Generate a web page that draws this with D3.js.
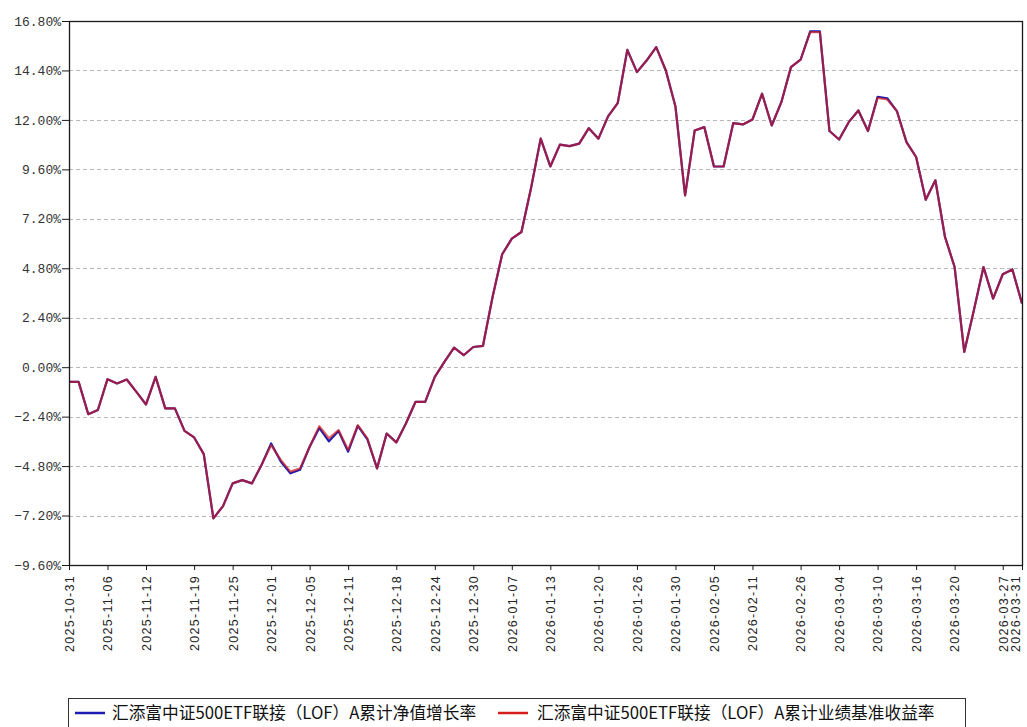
<!DOCTYPE html>
<html><head><meta charset="utf-8">
<script src="https://cdn.jsdelivr.net/npm/d3@7"></script>
<style>body{margin:0;background:#fff}svg{display:block}</style>
</head><body><svg id="c" width="1027" height="727"></svg>
<script>
const dates=["2025-10-31",
"2025-11-03","2025-11-04","2025-11-05","2025-11-06","2025-11-07","2025-11-10","2025-11-11","2025-11-12","2025-11-13","2025-11-14","2025-11-17","2025-11-18","2025-11-19","2025-11-20","2025-11-21","2025-11-24","2025-11-25","2025-11-26","2025-11-27","2025-11-28",
"2025-12-01","2025-12-02","2025-12-03","2025-12-04","2025-12-05","2025-12-08","2025-12-09","2025-12-10","2025-12-11","2025-12-12","2025-12-15","2025-12-16","2025-12-17","2025-12-18","2025-12-19","2025-12-22","2025-12-23","2025-12-24","2025-12-25","2025-12-26","2025-12-29","2025-12-30","2025-12-31",
"2026-01-05","2026-01-06","2026-01-07","2026-01-08","2026-01-09","2026-01-12","2026-01-13","2026-01-14","2026-01-15","2026-01-16","2026-01-19","2026-01-20","2026-01-21","2026-01-22","2026-01-23","2026-01-26","2026-01-27","2026-01-28","2026-01-29","2026-01-30",
"2026-02-02","2026-02-03","2026-02-04","2026-02-05","2026-02-06","2026-02-09","2026-02-10","2026-02-11","2026-02-12","2026-02-13","2026-02-24","2026-02-25","2026-02-26","2026-02-27",
"2026-03-02","2026-03-03","2026-03-04","2026-03-05","2026-03-06","2026-03-09","2026-03-10","2026-03-11","2026-03-12","2026-03-13","2026-03-16","2026-03-17","2026-03-18","2026-03-19","2026-03-20","2026-03-23","2026-03-24","2026-03-25","2026-03-26","2026-03-27","2026-03-30","2026-03-31"];

const benchReturn=[-0.71,-0.71,-2.28,-2.08,-0.58,-0.79,-0.60,-1.20,-1.81,-0.47,
-2.00,-2.00,-3.09,-3.41,-4.22,-7.34,-6.74,-5.64,-5.48,-5.64,
-4.75,-3.78,-4.50,-5.07,-4.91,-3.86,-2.86,-3.45,-3.05,-4.02,
-2.81,-3.46,-4.91,-3.22,-3.65,-2.73,-1.68,-1.68,-0.47,0.26,
0.95,0.58,0.98,1.03,3.41,5.48,6.24,6.56,8.70,11.09,
9.74,10.80,10.73,10.85,11.60,11.09,12.17,12.81,15.40,14.32,
14.88,15.53,14.40,12.65,8.34,11.49,11.65,9.74,9.74,11.84,
11.78,12.02,13.27,11.73,12.86,14.56,14.92,16.26,16.26,11.46,
11.05,11.89,12.46,11.46,13.07,12.99,12.43,10.92,10.20,8.13,
9.07,6.32,4.86,0.74,2.76,4.86,3.33,4.51,4.74,3.09];

const navReturn=[-0.71,-0.71,-2.28,-2.08,-0.58,-0.79,-0.60,-1.20,-1.81,-0.47,
-2.00,-2.00,-3.09,-3.41,-4.22,-7.34,-6.74,-5.64,-5.48,-5.64,
-4.75,-3.70,-4.58,-5.15,-4.98,-3.86,-2.95,-3.60,-3.10,-4.10,
-2.85,-3.50,-4.91,-3.22,-3.65,-2.73,-1.68,-1.68,-0.47,0.26,
0.95,0.58,0.98,1.03,3.41,5.48,6.24,6.56,8.70,11.09,
9.74,10.80,10.73,10.85,11.60,11.09,12.17,12.81,15.40,14.32,
14.88,15.53,14.40,12.65,8.34,11.49,11.65,9.74,9.74,11.84,
11.78,12.02,13.27,11.73,12.86,14.56,14.92,16.30,16.30,11.46,
11.05,11.89,12.46,11.46,13.12,13.05,12.43,10.92,10.20,8.13,
9.07,6.32,4.86,0.74,2.76,4.86,3.33,4.51,4.74,3.09];

const xTickLabels=["2025-10-31","2025-11-06","2025-11-12","2025-11-19","2025-11-25","2025-12-01","2025-12-05","2025-12-11","2025-12-18","2025-12-24","2025-12-30","2026-01-07","2026-01-13","2026-01-20","2026-01-26","2026-01-30","2026-02-05","2026-02-11","2026-02-26","2026-03-04","2026-03-10","2026-03-16","2026-03-20","2026-03-27","2026-03-31"];
const yTickValues=[-9.6,-7.2,-4.8,-2.4,0,2.4,4.8,7.2,9.6,12.0,14.4,16.8];
const seriesNames=["汇添富中证500ETF联接（LOF）A累计净值增长率","汇添富中证500ETF联接（LOF）A累计业绩基准收益率"];
const seriesColors=["#1c1cb4","#d41c1c"];

const svg=d3.select("#c");
const L=69,R=1022,T=21,B=565;
const x=d3.scalePoint().domain(dates).range([L,R]);
const y=d3.scaleLinear().domain([-9.6,16.8]).range([B,T]);

svg.append("rect").attr("width",1027).attr("height",727).attr("fill","#fff");

// grid
svg.append("g").selectAll("line").data(yTickValues.slice(1,-1)).join("line")
  .attr("x1",L).attr("x2",R).attr("y1",d=>Math.round(y(d))+0.5).attr("y2",d=>Math.round(y(d))+0.5)
  .attr("stroke","#b8b8b8").attr("stroke-width",1).attr("stroke-dasharray","4,3");

// lines
const line=d3.line().x((d,i)=>x(dates[i])).y(d=>y(d));
svg.append("path").datum(navReturn).attr("d",line).attr("fill","none")
  .attr("stroke",seriesColors[0]).attr("stroke-width",2.2).attr("stroke-linejoin","round");
svg.append("path").datum(benchReturn).attr("d",line).attr("fill","none")
  .attr("stroke",seriesColors[1]).attr("stroke-width",2.2).attr("stroke-opacity",0.68).attr("stroke-linejoin","round");

// frame
svg.append("rect").attr("x",L+0.5).attr("y",T+0.5).attr("width",R-L).attr("height",B-T)
  .attr("fill","none").attr("stroke","#1a1a1a").attr("stroke-width",1.3);

// y axis
const ya=svg.append("g").attr("transform",`translate(${L},0)`)
  .call(d3.axisLeft(y).tickValues(yTickValues).tickSize(7).tickPadding(1)
  .tickFormat(d=>d3.format(".2f")(d)+"%"));
ya.select(".domain").remove();
ya.selectAll("line").attr("stroke","#1a1a1a");
ya.selectAll("text").attr("font-family","'Liberation Mono','DejaVu Sans Mono',monospace")
  .attr("font-size",13).attr("fill","#333");

// x axis
const xa=svg.append("g").attr("transform",`translate(0,${B})`)
  .call(d3.axisBottom(x).tickValues(xTickLabels).tickSize(5));
xa.select(".domain").remove();
xa.selectAll("line").attr("stroke","#1a1a1a");
xa.selectAll("text").attr("transform","rotate(-90)").attr("x",-10)
  .attr("y",(d,i)=>i===xTickLabels.length-1?-7:0)
  .attr("dy","0.35em").attr("text-anchor","end")
  .attr("font-family","'Liberation Sans',Arial,sans-serif").attr("font-size",12.5)
  .attr("letter-spacing","1.3px").attr("fill","#222");

// legend
const lg=svg.append("g");
lg.append("rect").attr("x",68.5).attr("y",698.5).attr("width",897).attr("height",30)
  .attr("fill","#fff").attr("stroke","#333").attr("stroke-width",1);
const legendX=[[75,112],[498,537]];
seriesNames.forEach((n,i)=>{
  lg.append("line").attr("x1",legendX[i][0]).attr("x2",legendX[i][0]+30).attr("y1",713).attr("y2",713)
    .attr("stroke",seriesColors[i]).attr("stroke-width",2.5);
  lg.append("text").attr("x",legendX[i][1]).attr("y",713).attr("dy","0.35em")
    .attr("font-family","'Noto Sans CJK SC',sans-serif").attr("font-size",16.7).attr("fill","#111").text(n);
});
</script></body></html>
